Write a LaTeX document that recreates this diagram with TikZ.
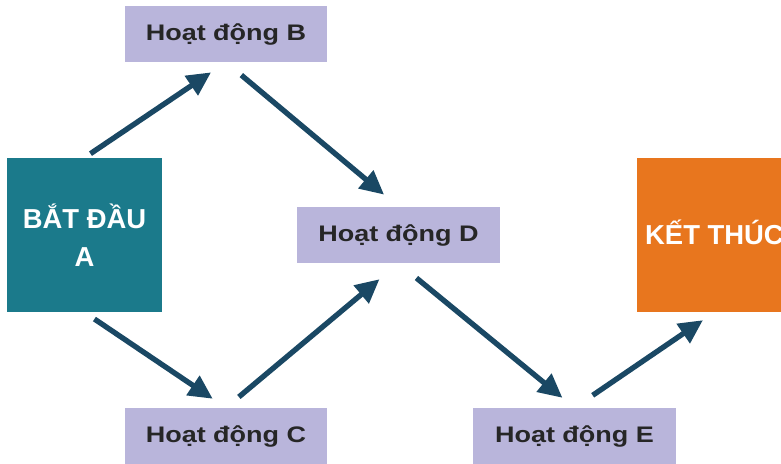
\documentclass[tikz,border=0pt]{standalone}
\usepackage{fontspec}
\setmainfont{Liberation Sans}
\newfontfamily\widefont[FakeStretch=1.2]{Liberation Sans}
\usetikzlibrary{positioning, arrows.meta}

\definecolor{tealbox}{HTML}{1B7A8B}
\definecolor{orangebox}{HTML}{E8761E}
\definecolor{lavender}{HTML}{B9B5DB}
\definecolor{navy}{HTML}{1A4864}

\begin{document}
\begin{tikzpicture}[x=0.025cm, y=-0.025cm]
        \tikzstyle{big} = [rectangle, minimum width=3.875cm, minimum height=3.85cm, text=white, align=center, font=\fontsize{19.5}{27}\selectfont\bfseries, inner sep=0pt]
        \tikzstyle{act} = [rectangle, minimum width=5.05cm, minimum height=1.4cm, fill=lavender, text=black!85, font=\widefont\fontsize{16}{18}\selectfont\bfseries, inner sep=0pt]
        \tikzstyle{arrow} = [line width=3.8pt, draw=navy, -{Triangle[length=17pt,width=16pt]}]

        \useasboundingbox (0,0) rectangle (781,464);
        \begin{scope}
        \clip (0,0) rectangle (781,464);
        \node (start) [big, fill=tealbox] at (84.5,235) {BẮT ĐẦU\\A};
        \node (finish) [big, fill=orangebox, text height=14pt, text depth=0pt] at (714.5,235) {KẾT THÚC};
        \node (actB) [act] at (226,34) {Hoạt động B};
        \node (actD) [act] at (398.5,235) {Hoạt động D};
        \node (actC) [act] at (226,436) {Hoạt động C};
        \node (actE) [act] at (574.5,436) {Hoạt động E};
        \end{scope}

        \draw [arrow, shorten <=0.18cm, shorten >=0.45cm] (start.north) -- (actB.south);
        \draw [arrow, shorten <=0.5cm, shorten >=0.47cm] (actB.south) -- (actD.north);
        \draw [arrow, shorten <=0.3cm, shorten >=0.4cm] (start.south) -- (actC.north);
        \draw [arrow, shorten <=0.42cm, shorten >=0.62cm] (actC.north) -- (actD.south);
        \draw [arrow, shorten <=0.58cm, shorten >=0.39cm] (actD.south) -- (actE.north);
        \draw [arrow, shorten <=0.55cm, shorten >=0.35cm] (actE.north) -- (finish.south);
    \end{tikzpicture}
\end{document}
